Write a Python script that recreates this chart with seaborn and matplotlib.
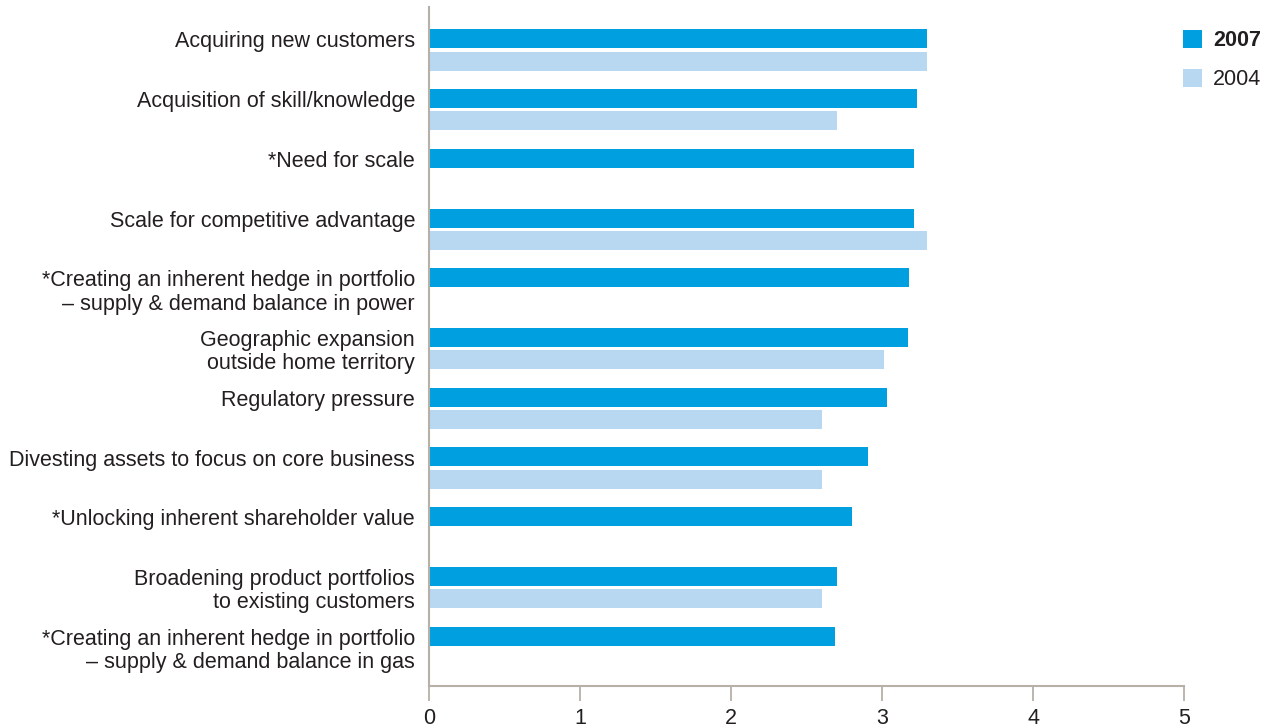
import numpy as np
import pandas as pd
import matplotlib
matplotlib.use("Agg")
import matplotlib.pyplot as plt
import seaborn as sns
from matplotlib.patches import Patch

categories = [
    "Acquiring new customers",
    "Acquisition of skill/knowledge",
    "*Need for scale",
    "Scale for competitive advantage",
    "*Creating an inherent hedge in portfolio\n– supply & demand balance in power",
    "Geographic expansion\noutside home territory",
    "Regulatory pressure",
    "Divesting assets to focus on core business",
    "*Unlocking inherent shareholder value",
    "Broadening product portfolios\nto existing customers",
    "*Creating an inherent hedge in portfolio\n– supply & demand balance in gas",
]
values_2007 = [3.30, 3.23, 3.21, 3.21, 3.18, 3.17, 3.03, 2.91, 2.80, 2.70, 2.69]
values_2004 = [3.30, 2.70, np.nan, 3.30, np.nan, 3.01, 2.60, 2.60, np.nan, 2.60, np.nan]
series_names = ["2007", "2004"]
x_ticks = [0, 1, 2, 3, 4, 5]

DARK = "#009FDF"
LIGHT = "#B8D8F1"
TEXT = "#231F20"
SPINE = "#B7B0A7"
FS = 15.5

df = pd.DataFrame({
    "Category": categories * 2,
    "Year": [series_names[0]] * len(categories) + [series_names[1]] * len(categories),
    "Score": values_2007 + values_2004,
})

sns.set_theme(style="white")
plt.rcParams["font.family"] = ["Liberation Sans", "DejaVu Sans"]

fig = plt.figure(figsize=(12.76, 7.27), dpi=100)
ax = fig.add_axes([429 / 1276, 1 - 686 / 727, (1184 - 429) / 1276, (686 - 7) / 727])

sns.barplot(data=df, y="Category", x="Score", hue="Year", order=categories,
            hue_order=series_names, palette=[DARK, LIGHT], orient="h",
            width=0.74, gap=0.14, linewidth=0, saturation=1, ax=ax, legend=False)

ax.set_xlim(0, 5)
ax.set_ylim(10.65, -0.72)
ax.set_xticks(x_ticks)
ax.set_xticklabels([str(t) for t in x_ticks], fontsize=FS, color=TEXT)
ax.set_yticks(range(len(categories)))
ylabels = [c if "\n" in c else c + "\n" for c in categories]
ax.set_yticklabels(ylabels, fontsize=FS, color=TEXT, linespacing=1.15)
for lbl in ax.get_yticklabels():
    if lbl.get_text().endswith("\n"):
        continue
    lbl.set_y(lbl.get_position()[1])
ax.set_xlabel("")
ax.set_ylabel("")
ax.tick_params(axis="y", left=False, length=0, pad=10)
ax.tick_params(axis="x", bottom=True, length=11, width=1.3, color=SPINE, pad=5, direction="out")
for s in ["top", "right"]:
    ax.spines[s].set_visible(False)
for s in ["left", "bottom"]:
    ax.spines[s].set_color(SPINE)
    ax.spines[s].set_linewidth(1.5)

handles = [Patch(facecolor=DARK, edgecolor="none"), Patch(facecolor=LIGHT, edgecolor="none")]
leg = fig.legend(handles, series_names, loc="upper left",
                 bbox_to_anchor=(1183 / 1276, 1 - 30 / 727), frameon=False,
                 fontsize=FS, handlelength=0.9, handleheight=0.9,
                 handletextpad=0.5, labelspacing=0.82, borderpad=0, borderaxespad=0)
for t in leg.get_texts():
    t.set_color(TEXT)
leg.get_texts()[0].set_fontweight("bold")

fig.savefig("out.png", dpi=100)
